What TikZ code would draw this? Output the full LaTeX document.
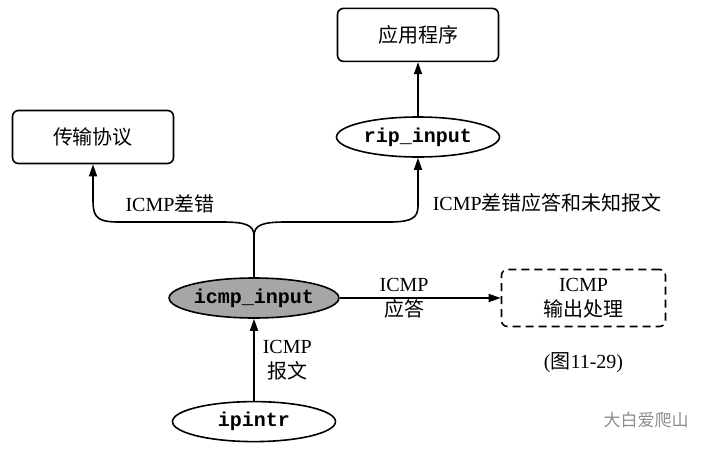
\documentclass[tikz,border=0pt]{standalone}
\usepackage{fontspec}
\setmainfont{Liberation Serif}
\setmonofont{Liberation Mono}
\newfontfamily\cjk{Noto Sans CJK SC}
\newcommand{\zhtext}[1]{{\cjk #1}}
\usetikzlibrary{shapes.geometric,arrows.meta,positioning}

\begin{document}
\begin{tikzpicture}[
  x=0.5pt, y=-0.5pt,
  every node/.style = {font=\fontsize{10}{12.5}\selectfont},
  box/.style = {rectangle, rounded corners=3pt, draw, line width=0.8pt,
    minimum width=80.5pt, minimum height=26.5pt, align=center, inner sep=1pt},
  out_box/.style = {box, dash pattern=on 4pt off 2.5pt,
    minimum width=82pt, minimum height=28.5pt},
  func/.style = {ellipse, draw, line width=0.8pt, minimum width=81.5pt,
    minimum height=20pt, inner sep=0pt,
    font=\fontsize{10}{12}\selectfont\ttfamily\bfseries},
  cur_func/.style = {func, fill=black!35},
  arr/.style = {-{Triangle[length=6pt,width=4pt]}, line width=0.8pt},
  lbl/.style = {inner sep=1pt, align=center},
  wm_lbl/.style = {font=\fontsize{8.5}{10}\selectfont, text=black!45}
]
\useasboundingbox (0,0) rectangle (712,450);

\node[cur_func]                   (icmp)  at (254,298) {icmp\_input};
\node[func, below=41pt of icmp]   (ipintr) {ipintr};
\node[out_box, right=80.5pt of icmp] (out) {ICMP\\\zhtext{输出处理}};
\node[below=9pt of out]           (fig)   {(\zhtext{图}11-29)};
\node[box]                        (tp)    at (93,137)  {\zhtext{传输协议}};
\node[func]                       (rip)   at (418,137) {rip\_input};
\node[box, above=27pt of rip]     (app)   {\zhtext{应用程序}};
\coordinate[above=20.5pt of icmp] (split);
\node[wm_lbl]                     (wm)    at (646,420) {\zhtext{大白爱爬山}};

\draw[arr] (ipintr) -- node[lbl,right=3pt]{ICMP\\\zhtext{报文}} (icmp);
\draw[arr] (icmp) -- node[lbl,pos=0.4]{ICMP\\\zhtext{应答}} (out);
\draw[arr] (rip) -- (app);
\draw[arr] (icmp) -- (split)
  .. controls (254,225) and (246,222) .. (222,222)
  -- node[lbl,above=3pt]{ICMP\zhtext{差错}} (118,222)
  .. controls (93,222) and (93,214) .. (93,196)
  -- (tp);
\draw[arr] (split)
  .. controls (254,225) and (262,222) .. (286,222)
  -- (390,222)
  .. controls (418,222) and (418,214) .. (418,203)
  node[lbl,right=6pt]{ICMP\zhtext{差错应答和未知报文}}
  -- (rip);
\end{tikzpicture}
\end{document}
